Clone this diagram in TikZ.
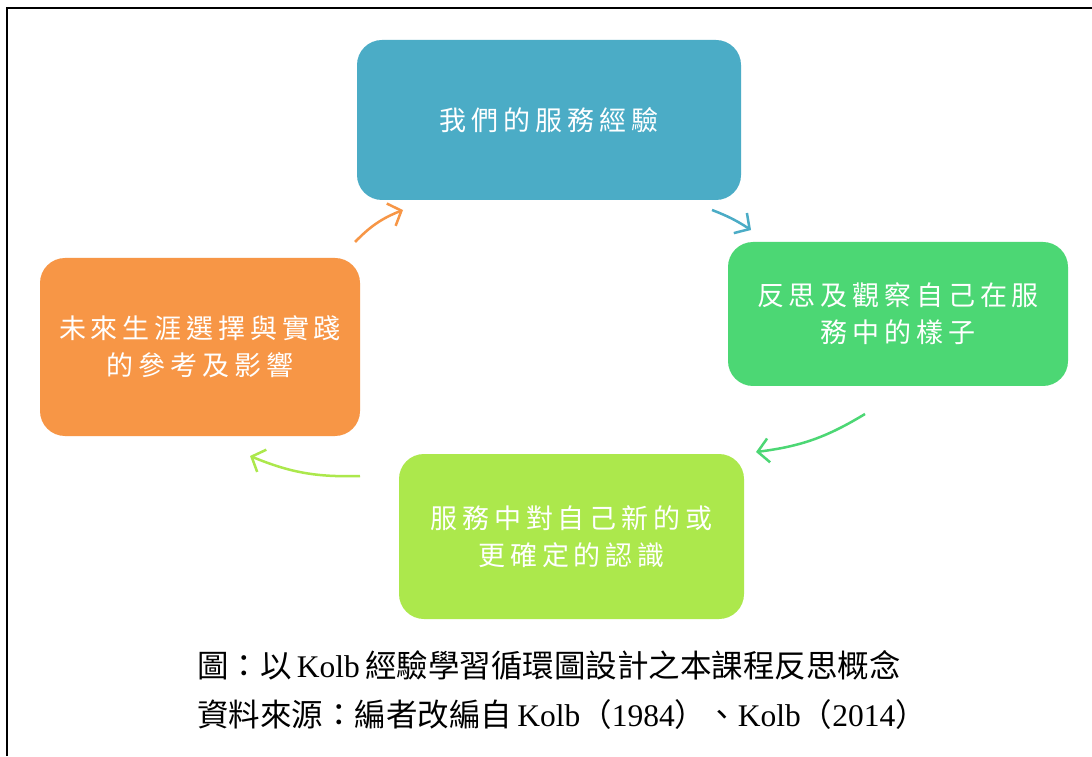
\documentclass[tikz,border=0pt]{standalone}
\usepackage{fontspec}
\setmainfont{Liberation Serif}
\newfontfamily\cjk{Noto Sans CJK TC}
\newfontfamily\cjkbox[LetterSpace=18]{Noto Sans CJK TC}
\usetikzlibrary{arrows.meta}
\definecolor{cblue}{HTML}{4BACC6}
\definecolor{cgreen}{HTML}{4CD774}
\definecolor{clime}{HTML}{ACE84C}
\definecolor{corange}{HTML}{F79646}
\tikzset{
  box/.style={rounded corners=25pt, inner sep=0pt, text=white, align=center,
    font=\cjkbox\fontsize{27}{37}\selectfont},
  cyc/.style={line width=2.5pt, -{Straight Barb[length=11pt,width=24pt]}, bend left=12},
  captext/.style={anchor=west, inner sep=0pt, font=\fontsize{31.5}{36}\selectfont}
}
\begin{document}
\begin{tikzpicture}[x=1pt,y=1pt]
\useasboundingbox (0,0) rectangle (1092,756);
\fill[white] (0,0) rectangle (1092,756);
\draw[line width=2pt] (7,0) -- (7,748) -- (1092,748);

\node[box, fill=cblue, minimum width=384pt, minimum height=160pt] (exp) at (549,636) {我們的服務經驗};
\node[box, fill=cgreen, minimum width=340pt, minimum height=144pt] (refl) at (898,442) {反思及觀察自己在服\\務中的樣子};
\node[box, fill=clime, minimum width=345pt, minimum height=165pt] (know) at (571.5,219.5) {服務中對自己新的或\\更確定的認識};
\node[box, fill=corange, minimum width=320pt, minimum height=178pt] (fut) at (200,409) {未來生涯選擇與實踐\\的參考及影響};

\coordinate (o1) at (355,514); \coordinate (o2) at (403,546);
\coordinate (b1) at (712,546); \coordinate (b2) at (751,526);
\coordinate (g1) at (865,342); \coordinate (g2) at (756,304);
\coordinate (l1) at (360,280); \coordinate (l2) at (250,300);
\draw[cyc, corange] (o1) to (o2);
\draw[cyc, cblue, bend left=6] (b1) to (b2);
\draw[cyc, cgreen] (g1) to (g2);
\draw[cyc, clime] (l1) to (l2);

\node[captext] (cap1) at (197,91) {{\cjk 圖：以}\,Kolb\,{\cjk 經驗學習循環圖設計之本課程反思概念}};
\node[captext] (cap2) at (197,41) {{\cjk 資料來源：編者改編自}\,Kolb{\cjk （}1984{\cjk ）、}Kolb{\cjk （}2014{\cjk ）}};
\end{tikzpicture}
\end{document}
